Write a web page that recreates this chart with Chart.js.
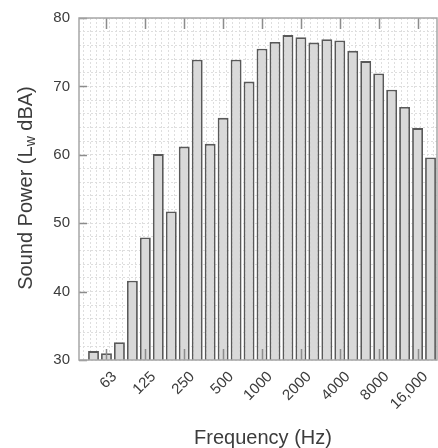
<!DOCTYPE html>
<html>
<head>
<meta charset="utf-8">
<script src="https://cdn.jsdelivr.net/npm/chart.js@4"></script>
<style>
  html, body { margin: 0; padding: 0; background: #fff; }
  #wrap { width: 438px; height: 448px; }
</style>
</head>
<body>
<div id="wrap"><canvas id="chart"></canvas></div>
<script>
// third-octave bands, 50 Hz .. 20 kHz
const bands = ['50', '63', '80', '100', '125', '160', '200', '250', '315', '400', '500', '630', '800',
    '1000', '1250', '1600', '2000', '2500', '3150', '4000', '5000', '6300', '8000', '10000', '12500', '16000', '20000'];
const soundPower = [31.3, 31.0, 32.6, 41.6, 47.9, 60.1, 51.7, 61.2, 73.9, 61.6, 65.4, 73.9, 70.7,
    75.5, 76.5, 77.5, 77.2, 76.4, 76.9, 76.7, 75.2, 73.7, 71.9, 69.5, 67.0, 63.9, 59.6];
// labelled octave ticks (index into bands) and their text
const tickBands = [1, 4, 7, 10, 13, 16, 19, 22, 25];
const tickLabels = ['63', '125', '250', '500', '1000', '2000', '4000', '8000', '16,000'];
const yTicks = [30, 40, 50, 60, 70, 80];

const FONT = "'Liberation Sans', Arial, Helvetica, sans-serif";
const X_MIN = -1.12, X_MAX = 26.5;

// frame, inward ticks and axis titles (MATLAB look)
const framePlugin = {
    id: 'frame',
    afterDatasetsDraw(chart) {
        const { ctx, chartArea: a, scales } = chart;
        ctx.save();
        ctx.strokeStyle = '#8c8c8c';
        ctx.lineWidth = 1.5;
        ctx.beginPath();
        tickBands.forEach(i => {
            const x = Math.round(scales.x.getPixelForValue(i)) + 0.5;
            ctx.moveTo(x, a.top); ctx.lineTo(x, a.top + 11);
            ctx.moveTo(x, a.bottom); ctx.lineTo(x, a.bottom - 11);
        });
        yTicks.forEach(v => {
            const y = Math.round(scales.y.getPixelForValue(v)) + 0.5;
            ctx.moveTo(a.left, y); ctx.lineTo(a.left + 8, y);
        });
        ctx.stroke();
        ctx.strokeStyle = '#a6a6a6';
        ctx.lineWidth = 1.5;
        ctx.strokeRect(a.left, a.top, a.right - a.left, a.bottom - a.top);
        ctx.restore();
    },
    afterDraw(chart) {
        const { ctx } = chart;
        ctx.save();
        ctx.fillStyle = '#3c3c3c';
        // x title
        ctx.font = '20px ' + FONT;
        ctx.textAlign = 'center';
        ctx.textBaseline = 'middle';
        ctx.fillText('Frequency (Hz)', 263, 438);
        // y title with subscript w
        const big = '20px ' + FONT, small = '14px ' + FONT;
        const parts = [['Sound Power (L', big, 0], ['w', small, 5], [' dBA)', big, 0]];
        let total = 0;
        parts.forEach(p => { ctx.font = p[1]; total += ctx.measureText(p[0]).width; });
        ctx.translate(26, 188);
        ctx.rotate(-Math.PI / 2);
        ctx.textAlign = 'left';
        let x = -total / 2;
        parts.forEach(p => {
            ctx.font = p[1];
            ctx.fillText(p[0], x, p[2]);
            x += ctx.measureText(p[0]).width;
        });
        ctx.restore();
    }
};

const gridStyle = { color: '#dedede', lineWidth: 1, drawTicks: false };
// keep the plot box fixed, whatever the rotated labels want
const noSidePad = s => { s.paddingLeft = 0; s.paddingRight = 0; };

new Chart(document.getElementById('chart'), {
    type: 'bar',
    data: {
        datasets: [{
            xAxisID: 'x',
            data: bands.map((b, i) => ({ x: i, y: soundPower[i] })),
            backgroundColor: '#d9d9d9',
            borderColor: '#595959',
            borderWidth: 1.8,
            barPercentage: 0.84,
            categoryPercentage: 1
        }]
    },
    options: {
        responsive: true,
        maintainAspectRatio: false,
        animation: false,
        layout: { padding: { top: 15, right: 1, left: 0, bottom: 0 } },
        plugins: { legend: { display: false }, tooltip: { enabled: false } },
        scales: {
            // minor vertical grid, every half band
            xg: {
                type: 'linear',
                position: 'bottom',
                offset: false,
                min: X_MIN, max: X_MAX,
                afterBuildTicks: s => {
                    const t = [];
                    for (let v = -1; v <= 26.5; v += 0.5) t.push({ value: v });
                    s.ticks = t;
                },
                afterFit: s => { s.height = 0; noSidePad(s); },
                ticks: { display: false },
                grid: gridStyle,
                border: { display: false, dash: [2, 2] }
            },
            x: {
                type: 'linear',
                position: 'bottom',
                offset: false,
                min: X_MIN, max: X_MAX,
                afterBuildTicks: s => { s.ticks = tickBands.map(v => ({ value: v })); },
                afterFit: s => { s.height = 88; noSidePad(s); },
                ticks: {
                    autoSkip: false,
                    minRotation: 45, maxRotation: 45,
                    labelOffset: 8,
                    padding: 0,
                    color: '#3c3c3c',
                    font: { family: FONT, size: 15 },
                    callback: v => tickLabels[tickBands.indexOf(v)]
                },
                grid: { display: false },
                border: { display: false }
            },
            y: {
                min: 30, max: 80,
                afterFit: s => { s.width = 79; },
                ticks: {
                    stepSize: 2,
                    autoSkip: false,
                    padding: 9,
                    color: '#3c3c3c',
                    font: { family: FONT, size: 15 },
                    callback: v => (v % 10 === 0 ? v : '')
                },
                grid: gridStyle,
                border: { display: false, dash: [2, 2] }
            }
        }
    },
    plugins: [framePlugin]
});
</script>
</body>
</html>
